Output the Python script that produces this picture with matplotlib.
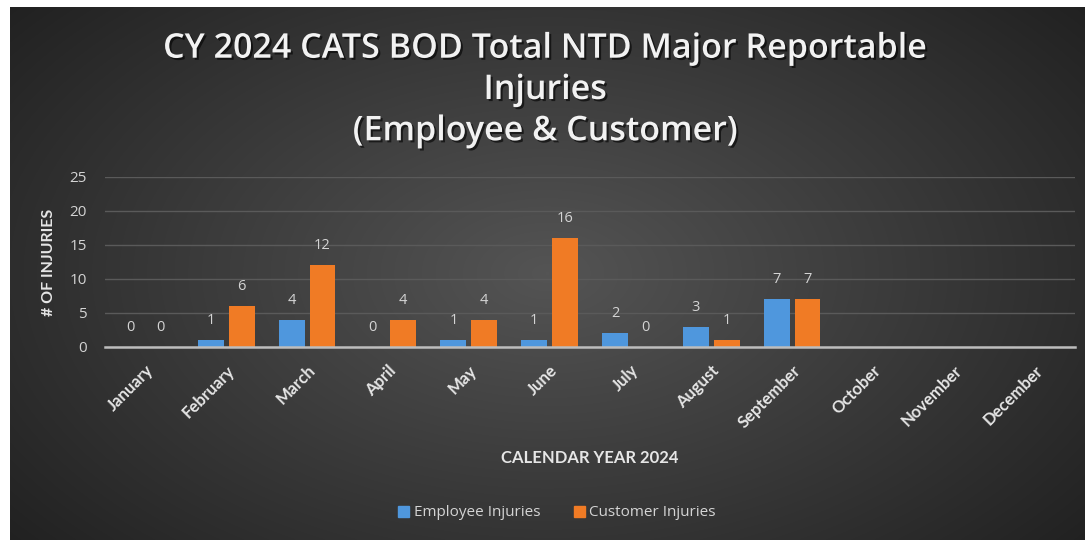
import numpy as np
import matplotlib

matplotlib.use("Agg")
import matplotlib.pyplot as plt
import matplotlib.patheffects as pe
from matplotlib.patches import Patch

months = ["January", "February", "March", "April", "May", "June", "July",
          "August", "September", "October", "November", "December"]
employee = [0, 1, 4, 0, 1, 1, 2, 3, 7, None, None, None]
customer = [0, 6, 12, 4, 4, 16, 0, 1, 7, None, None, None]

title = "CY 2024 CATS BOD Total NTD Major Reportable\nInjuries\n(Employee & Customer)"
blue = "#4F97DD"
orange = "#F07B25"
text_col = "#D4D4D4"

W, H = 1087, 540
fig = plt.figure(figsize=(W / 100, H / 100), dpi=100, facecolor="white")

# dark radial-gradient chart background
bg = fig.add_axes([10 / W, 0, (W - 12) / W, (H - 7) / H])
yy, xx = np.mgrid[0:1:300j, 0:1:600j]
r = np.sqrt(((xx - 0.5) / 0.62) ** 2 + ((yy - 0.5) / 0.75) ** 2)
shade = np.clip(0.33 - 0.19 * r, 0.13, 0.35)
bg.imshow(np.dstack([shade] * 3), aspect="auto", extent=(0, 1, 0, 1), interpolation="bilinear")
bg.set_axis_off()

ax = fig.add_axes([105 / W, 193 / H, 970 / W, 170 / H])
ax.patch.set_alpha(0)

x = np.arange(len(months))
bw = 0.32
off = 0.19
emp_vals = [v for v in employee if v is not None]
cus_vals = [v for v in customer if v is not None]
xe = x[:len(emp_vals)] - off
xc = x[:len(cus_vals)] + off
ax.bar(xe, emp_vals, width=bw, color=blue, zorder=3)
ax.bar(xc, cus_vals, width=bw, color=orange, zorder=3)

for xs, vals in ((xe, emp_vals), (xc, cus_vals)):
    for xi, v in zip(xs, vals):
        ax.annotate(str(v), (xi, v), xytext=(0, 14), textcoords="offset points",
                    ha="center", va="center", color=text_col, fontsize=10.5,
                    family="Open Sans", zorder=4)

ax.set_xlim(-0.5, len(months) - 0.5)
ax.set_ylim(0, 25)
ax.set_yticks([0, 5, 10, 15, 20, 25])
ax.grid(axis="y", color="#5A5A5A", lw=1, zorder=0)
ax.set_axisbelow(True)
for s in ("top", "right", "left"):
    ax.spines[s].set_visible(False)
ax.spines["bottom"].set_color("#BDBDBD")
ax.spines["bottom"].set_linewidth(1.8)
ax.spines["bottom"].set_zorder(5)

ax.tick_params(axis="y", length=0, pad=13, labelcolor=text_col, labelsize=11)
ax.tick_params(axis="x", length=0, pad=11)
for lab in ax.get_yticklabels():
    lab.set_family("Open Sans")
ax.set_xticks(x)
ax.set_xticklabels(months, rotation=45, ha="right", va="top", rotation_mode="anchor",
                   color="#E6E6E6", fontsize=12, fontweight="bold", family="Lato")

ax.set_ylabel("# OF INJURIES", color="#E6E6E6", fontsize=11.5, fontweight="bold",
              family="Lato", labelpad=10)
fig.text(590 / W, 1 - 458 / H, "CALENDAR YEAR 2024", ha="center", va="center",
         color="#E6E6E6", fontsize=12, fontweight="bold", family="Lato")

fig.text(545 / W, 1 - 90 / H, title, ha="center", va="center", color="#F2F2F2",
         fontsize=24.5, fontweight="semibold", family="Open Sans", linespacing=1.28,
         path_effects=[pe.withSimplePatchShadow(offset=(1.5, -1.5), shadow_rgbFace="black",
                                                alpha=0.6)])

handles = [Patch(color=blue, label="Employee Injuries"),
           Patch(color=orange, label="Customer Injuries")]
leg = fig.legend(handles=handles, loc="center", bbox_to_anchor=(557 / W, 1 - 513 / H),
                 ncol=2, frameon=False, handlelength=0.7, handleheight=0.7,
                 handletextpad=0.3, columnspacing=2.2,
                 prop={"family": "Open Sans", "size": 11})
for t in leg.get_texts():
    t.set_color(text_col)

fig.savefig("out.png", dpi=100, facecolor="white")
